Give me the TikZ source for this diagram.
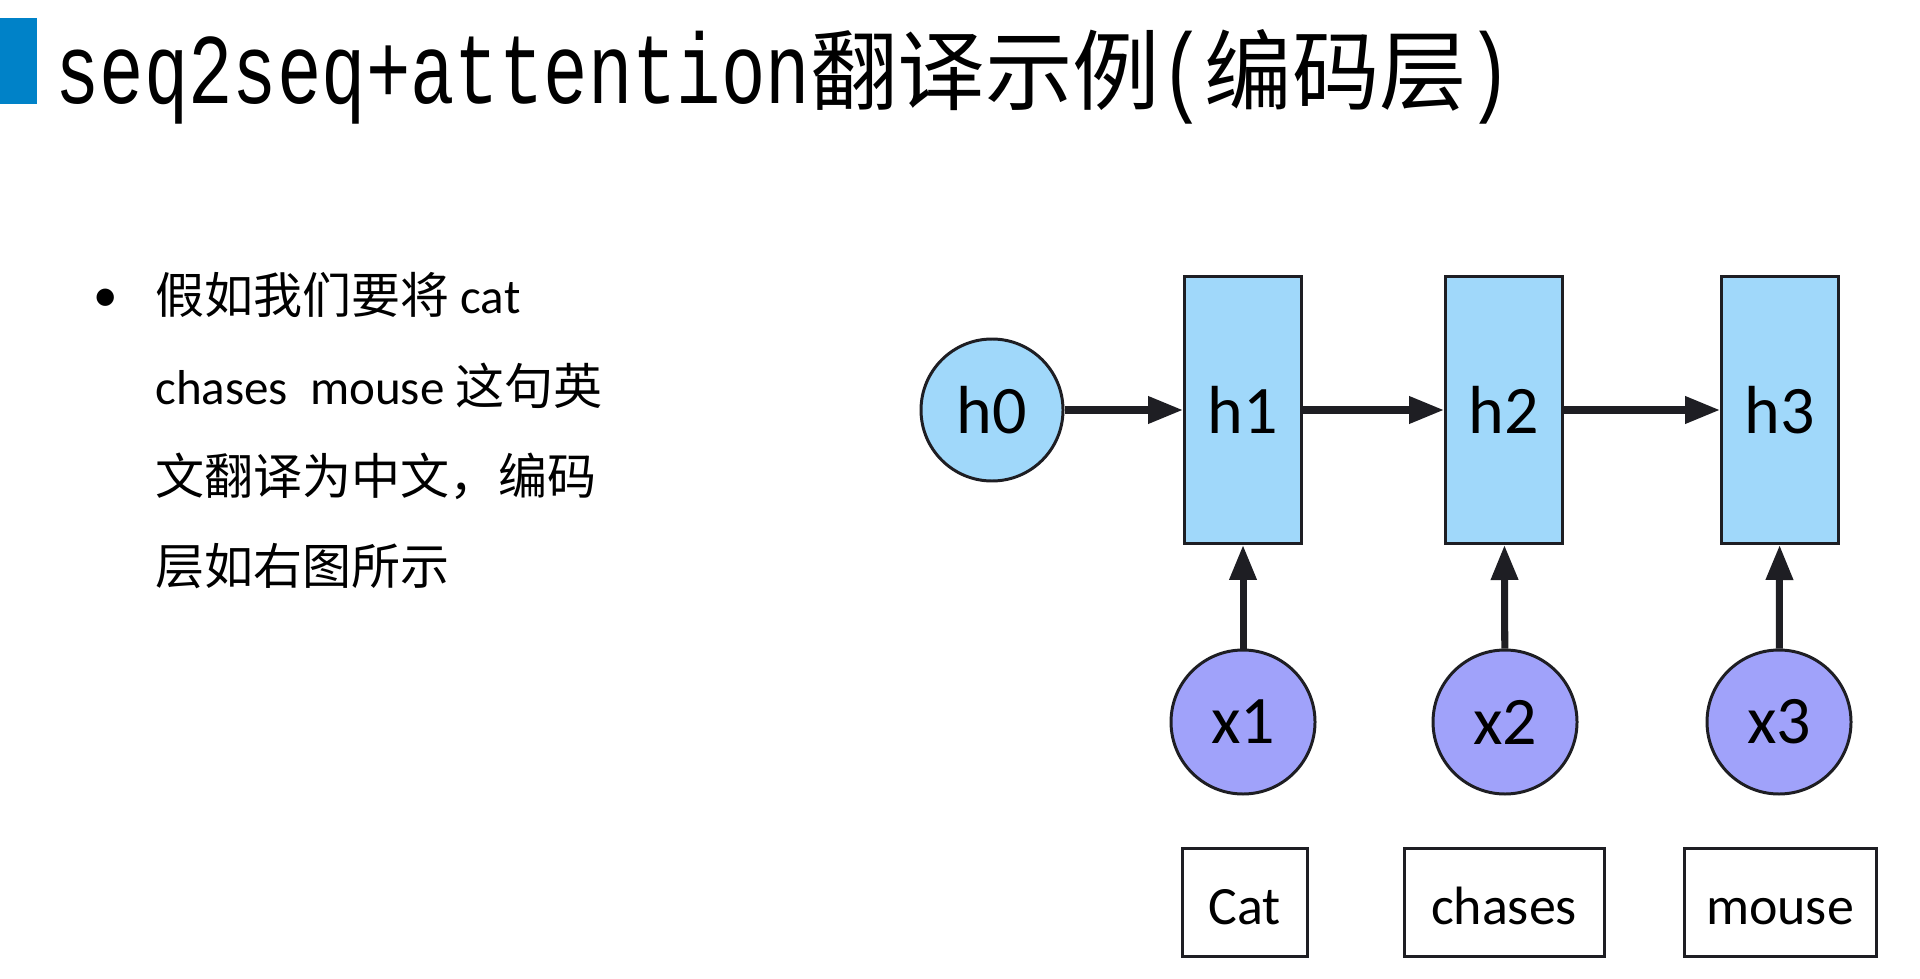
\documentclass[tikz,border=0pt]{standalone}
\usepackage{fontspec}
\usepackage{graphicx}
\usepackage{tikz}
\usetikzlibrary{arrows.meta, positioning}
\setmainfont{Carlito}
\newfontfamily\cjk{Noto Sans CJK SC}
\newfontfamily\titlemono{Liberation Mono}
\definecolor{barblue}{RGB}{0,130,200}
\definecolor{cellblue}{RGB}{160,216,250}
\definecolor{inpurple}{RGB}{160,162,250}
\definecolor{edgegray}{RGB}{30,30,35}
\newcommand{\tlat}[1]{{\titlemono\fontsize{42.1}{50}\selectfont\scalebox{1}[1.35]{#1}}}
\newcommand{\tcjk}[1]{{\cjk\fontsize{49.8}{60}\selectfont #1}}

\begin{document}
\begin{tikzpicture}[
    hstate/.style={circle, draw=edgegray, line width=1.7pt, fill=cellblue,
        minimum size=2.84cm, inner sep=0pt, font=\fontsize{38.7}{40}\selectfont},
    hcell/.style={rectangle, draw=edgegray, line width=1.7pt, fill=cellblue,
        minimum width=2.34cm, minimum height=5.34cm, inner sep=0pt,
        font=\fontsize{38.7}{40}\selectfont},
    xin/.style={circle, draw=edgegray, line width=1.7pt, fill=inpurple,
        minimum size=2.88cm, inner sep=0pt, font=\fontsize{38.7}{40}\selectfont},
    word/.style={rectangle, draw=edgegray, line width=1.7pt, minimum height=2.16cm,
        inner sep=0pt, text height=28pt, text depth=2pt,
        font=\fontsize{30.7}{32}\selectfont},
    bodytext/.style={anchor=base west, inner sep=0pt, font=\fontsize{27.9}{32}\selectfont},
    link/.style={draw=edgegray, line width=4pt, -{Triangle[length=0.7cm,width=0.52cm]}}
]
    \useasboundingbox (0,0) rectangle (38.4,19.56);

    % Title bar
    \fill[barblue] (0,17.48) rectangle (0.74,19.2);
    \node[anchor=base west, inner sep=0pt] (title) at (1.10,17.48)
        {\tlat{seq2seq+attention}\tcjk{翻译示例}\tlat{(}\tcjk{编码层}\tlat{)}};

    % Bullet text
    \node[bodytext, anchor=center] (bullet) at (2.12,13.56) {•};
    \node[bodytext] (line1) at (3.10,13.28) {{\cjk 假如我们要将} cat};
    \node[bodytext] (line2) at (3.10,11.48) {chases\ \ mouse {\cjk 这句英}};
    \node[bodytext] (line3) at (3.10,9.68)  {{\cjk 文翻译为中文，编码}};
    \node[bodytext] (line4) at (3.10,7.88)  {{\cjk 层如右图所示}};

    % Hidden states
    \node[hstate] (h0) at (19.84,11.36) {h0};
    \node[hcell]  (h1) at (24.86,11.36) {h1};
    \node[hcell]  (h2) at (30.08,11.36) {h2};
    \node[hcell]  (h3) at (35.60,11.36) {h3};

    % Inputs
    \node[xin] (x1) at (24.86,5.12) {x1};
    \node[xin] (x2) at (30.10,5.12) {x2};
    \node[xin] (x3) at (35.58,5.12) {x3};

    % Words
    \node[word, minimum width=2.5cm]  (cat)    at (24.89,1.52) {Cat};
    \node[word, minimum width=4.0cm]  (chases) at (30.08,1.52) {chases};
    \node[word, minimum width=3.84cm] (mouse)  at (35.60,1.52) {mouse};

    % Connections
    \draw[link] (h0) -- (h1);
    \draw[link] (h1) -- (h2);
    \draw[link] (h2) -- (h3);
    \draw[link] (x1) -- (h1);
    \draw[link] (x2) -- (h2);
    \draw[link] (x3) -- (h3);
\end{tikzpicture}
\end{document}
